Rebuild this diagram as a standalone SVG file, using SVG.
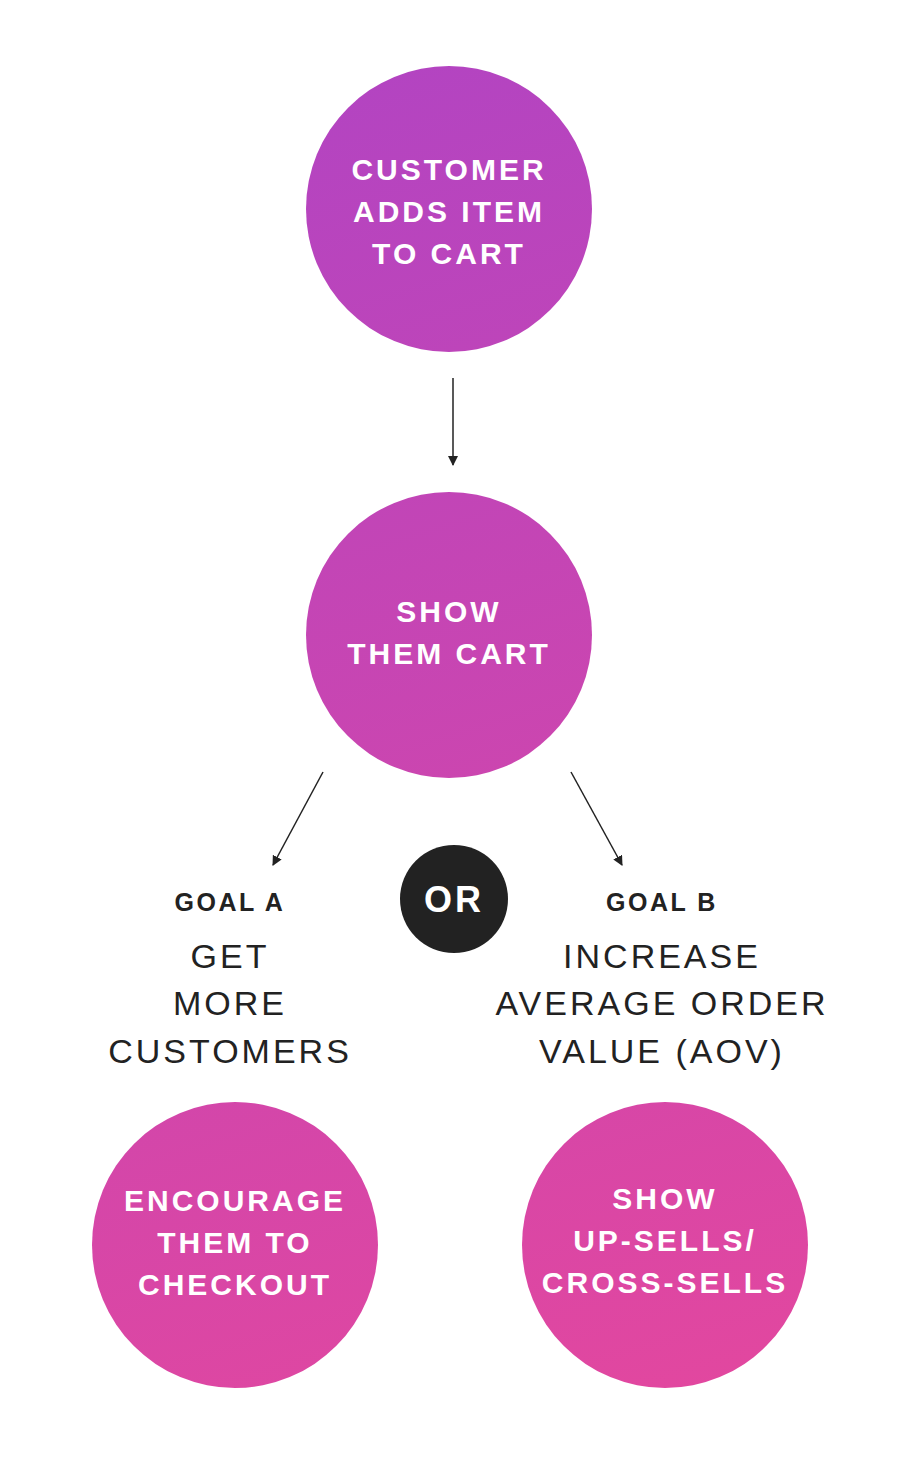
<svg xmlns="http://www.w3.org/2000/svg" width="906" height="1478" viewBox="0 0 906 1478">
<defs>
<linearGradient id="g" gradientUnits="userSpaceOnUse" x1="300" y1="60" x2="700" y2="1400">
<stop offset="0" stop-color="#b244c2"/><stop offset="1" stop-color="#e2479f"/>
</linearGradient>
<marker id="a" viewBox="0 0 10 10" refX="9" refY="5" markerWidth="10" markerHeight="10" markerUnits="userSpaceOnUse" orient="auto"><path d="M0,0L10,5L0,10z" fill="#222"/></marker>
<style>
.n{fill:url(#g)}
.t{font-family:"Liberation Sans",Arial,sans-serif;font-weight:bold;font-size:30px;letter-spacing:3px;fill:#fff;text-anchor:middle}
.h{font-family:"Liberation Sans",Arial,sans-serif;font-size:34px;letter-spacing:3px;fill:#222;text-anchor:middle}
.s{font-family:"Liberation Sans",Arial,sans-serif;font-weight:bold;font-size:25px;letter-spacing:2.5px;fill:#222;text-anchor:middle}
.c{stroke:#222;stroke-width:1.5;fill:none;marker-end:url(#a)}
</style>
</defs>
<rect width="906" height="1478" fill="#fff"/>
<g id="connectors">
<line class="c" x1="453" y1="378" x2="453" y2="465"/>
<line class="c" x1="323" y1="772" x2="273" y2="865"/>
<line class="c" x1="571" y1="772" x2="622" y2="865"/>
</g>
<g id="n1"><circle class="n" cx="449" cy="209" r="143"/>
<text class="t" x="449" y="180">CUSTOMER</text><text class="t" x="449" y="222">ADDS ITEM</text><text class="t" x="449" y="264">TO CART</text></g>
<g id="n2"><circle class="n" cx="449" cy="635" r="143"/>
<text class="t" x="449" y="622">SHOW</text><text class="t" x="449" y="664">THEM CART</text></g>
<g id="or"><circle cx="454" cy="899" r="54" fill="#222"/>
<text class="t" x="454" y="912" style="font-size:36px">OR</text></g>
<g id="goalA"><text class="s" x="230" y="911">GOAL A</text>
<text class="h" x="230" y="968">GET</text><text class="h" x="230" y="1015">MORE</text><text class="h" x="230" y="1063">CUSTOMERS</text></g>
<g id="goalB"><text class="s" x="662" y="911">GOAL B</text>
<text class="h" x="662" y="968">INCREASE</text><text class="h" x="662" y="1015">AVERAGE ORDER</text><text class="h" x="662" y="1063">VALUE (AOV)</text></g>
<g id="n3"><circle class="n" cx="235" cy="1245" r="143"/>
<text class="t" x="235" y="1211">ENCOURAGE</text><text class="t" x="235" y="1253">THEM TO</text><text class="t" x="235" y="1295">CHECKOUT</text></g>
<g id="n4"><circle class="n" cx="665" cy="1245" r="143"/>
<text class="t" x="665" y="1209">SHOW</text><text class="t" x="665" y="1251">UP-SELLS/</text><text class="t" x="665" y="1293">CROSS-SELLS</text></g>
</svg>
